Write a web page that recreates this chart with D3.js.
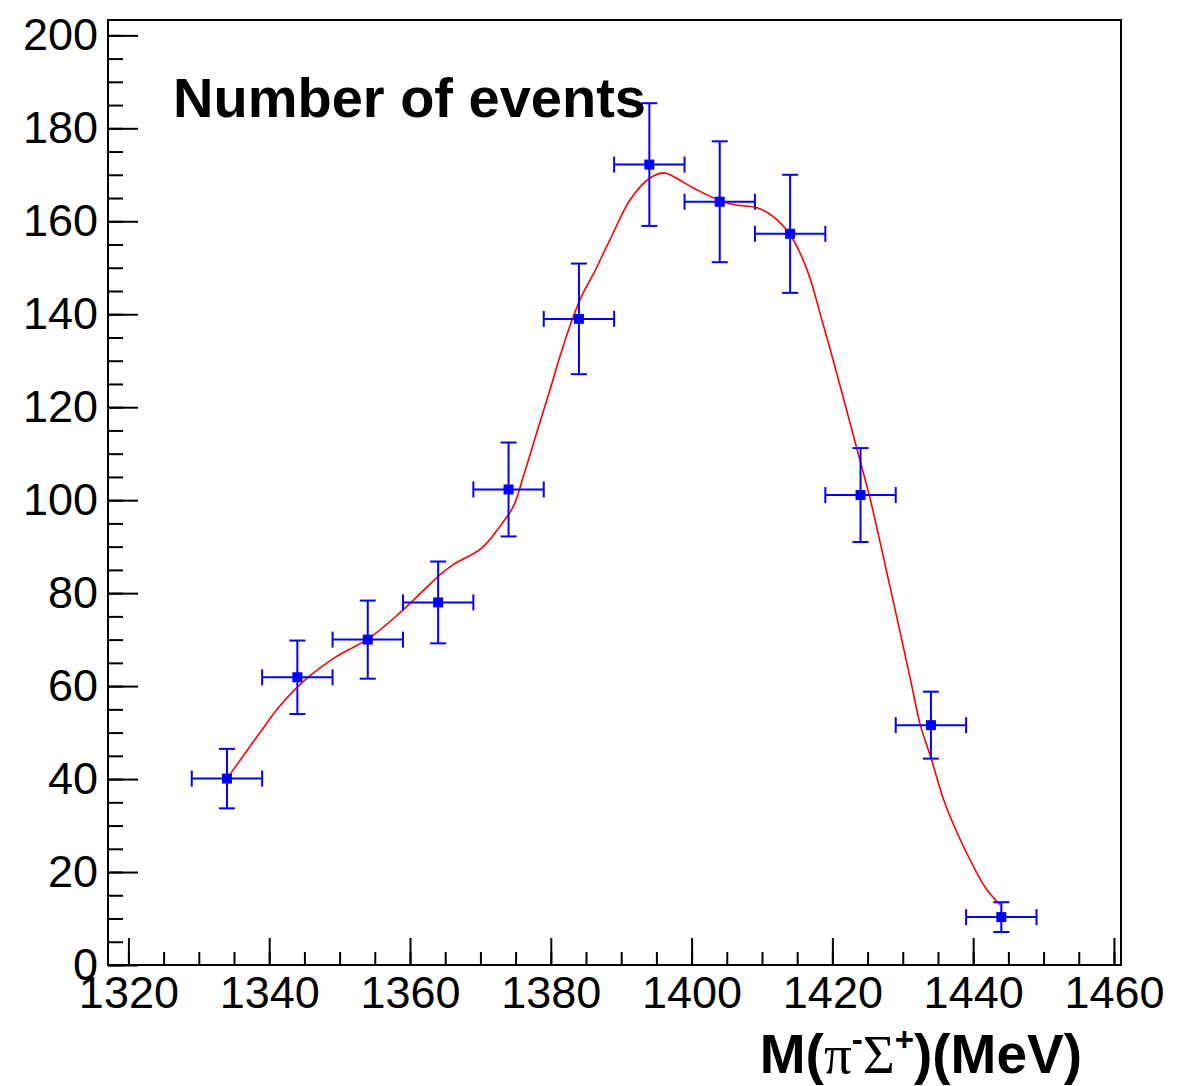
<!DOCTYPE html>
<html>
<head>
<meta charset="utf-8">
<script src="https://cdn.jsdelivr.net/npm/d3@7"></script>
<style>
    body { margin: 0; background: #fff; }
    svg { display: block; }
</style>
</head>
<body>
<div id="chart"></div>
<script>
// 数据：每个bin的中心(MeV)、事件数、误差
var massBins = [1334, 1344, 1354, 1364, 1374, 1384, 1394, 1404, 1414, 1424, 1434, 1444];
var eventCounts = [40.1, 61.9, 70.0, 78.0, 102.3, 139.0, 172.2, 164.2, 157.3, 101.1, 51.6, 10.3];
var countErrors = [6.4, 7.9, 8.4, 8.8, 10.1, 11.9, 13.2, 13.0, 12.7, 10.1, 7.2, 3.2];
var binHalfWidth = 5;

// 拟合曲线(红色)
var fitMass = [1334, 1338.7, 1341.5, 1345.3, 1349.6, 1354.1, 1358.6, 1364.3, 1366.2, 1370.2,
    1372.8, 1374.7, 1376.1, 1378.0, 1379.9, 1381.3, 1383.2, 1384.6, 1386.0, 1388.4,
    1391.3, 1394.1, 1396.2, 1397.2, 1400.7, 1403.8, 1405.9, 1409.3, 1411.6, 1414.0,
    1416.4, 1418.5, 1420.1, 1422.0, 1423.9, 1425.4, 1426.8, 1428.7, 1431.1, 1432.5,
    1434.0, 1435.8, 1437.7, 1440.0, 1441.9, 1443.8];
var fitCounts = [40.1, 50.0, 55.7, 61.6, 66.4, 70.2, 75.8, 84.0, 86.2, 89.7,
    94.4, 98.7, 105.1, 114.5, 123.8, 130.9, 139.5, 144.6, 148.5, 156.0,
    164.7, 169.3, 170.4, 169.8, 166.8, 164.6, 163.6, 162.9, 161.0, 157.1,
    149.6, 138.8, 130.2, 119.5, 108.7, 100.1, 90.8, 77.9, 61.4, 51.6,
    44.6, 35.6, 28.5, 21.3, 16.3, 13.0];

// 坐标轴刻度
var xTicks = [1320, 1340, 1360, 1380, 1400, 1420, 1440, 1460];
var yTicks = [0, 20, 40, 60, 80, 100, 120, 140, 160, 180, 200];

var width = 1182, height = 1086;
var padL = 108, padR = 1121, padT = 20, padB = 965;

var svg = d3.select("#chart")
    .append("svg")
    .attr("width", width)
    .attr("height", height)
    .style("font-family", "'Liberation Sans', Arial, sans-serif");

var x = d3.scaleLinear().domain([1317.1, 1461.0]).range([padL, padR]);
var y = d3.scaleLinear().domain([0, 203.3]).range([padB, padT]);

// x轴 小刻度
svg.append("g")
    .attr("transform", "translate(0," + padB + ")")
    .call(d3.axisBottom(x).tickValues(d3.range(1320, 1461, 5)).tickSizeInner(-13).tickSizeOuter(0).tickFormat(""))
    .call(function (g) { g.select(".domain").remove(); })
    .selectAll("line").attr("stroke-width", 2);

// x轴 大刻度
svg.append("g")
    .attr("transform", "translate(0," + padB + ")")
    .call(d3.axisBottom(x).tickValues(xTicks).tickSizeInner(-27).tickSizeOuter(0).tickPadding(11).tickFormat(d3.format("d")))
    .call(function (g) { g.select(".domain").remove(); })
    .call(function (g) {
        g.selectAll("line").attr("stroke-width", 2);
        g.selectAll("text")
            .attr("font-size", 45)
            .attr("font-family", "'Liberation Sans', Arial, sans-serif")
            .attr("fill", "#000");
    });

// y轴 小刻度
svg.append("g")
    .attr("transform", "translate(" + padL + ",0)")
    .call(d3.axisLeft(y).tickValues(d3.range(0, 201, 5)).tickSizeInner(-15).tickSizeOuter(0).tickFormat(""))
    .call(function (g) { g.select(".domain").remove(); })
    .selectAll("line").attr("stroke-width", 2);

// y轴 大刻度
svg.append("g")
    .attr("transform", "translate(" + padL + ",0)")
    .call(d3.axisLeft(y).tickValues(yTicks).tickSizeInner(-30).tickSizeOuter(0).tickPadding(10).tickFormat(d3.format("d")))
    .call(function (g) { g.select(".domain").remove(); })
    .call(function (g) {
        g.selectAll("line").attr("stroke-width", 2);
        g.selectAll("text")
            .attr("font-size", 45)
            .attr("font-family", "'Liberation Sans', Arial, sans-serif")
            .attr("fill", "#000");
    });

// 边框
svg.append("rect")
    .attr("x", padL)
    .attr("y", padT)
    .attr("width", padR - padL)
    .attr("height", padB - padT)
    .attr("fill", "none")
    .attr("stroke", "#000")
    .attr("stroke-width", 2);

// 拟合曲线
var fitData = fitMass.map(function (m, i) { return [m, fitCounts[i]]; });
var line = d3.line()
    .x(function (d) { return x(d[0]); })
    .y(function (d) { return y(d[1]); })
    .curve(d3.curveCatmullRom.alpha(0.5));
svg.append("path")
    .datum(fitData)
    .attr("d", line)
    .attr("fill", "none")
    .attr("stroke", "#ff0000")
    .attr("stroke-width", 1.6);

// 数据点 + 误差棒
var points = massBins.map(function (m, i) {
    return { m: m, n: eventCounts[i], e: countErrors[i] };
});
var cap = 8;
var pts = svg.selectAll("g.pt")
    .data(points)
    .enter()
    .append("g")
    .attr("class", "pt")
    .attr("stroke", "#0000ff")
    .attr("stroke-width", 2);

// 横向误差
pts.append("line")
    .attr("x1", function (d) { return x(d.m - binHalfWidth); })
    .attr("x2", function (d) { return x(d.m + binHalfWidth); })
    .attr("y1", function (d) { return y(d.n); })
    .attr("y2", function (d) { return y(d.n); });
pts.append("line")
    .attr("x1", function (d) { return x(d.m - binHalfWidth); })
    .attr("x2", function (d) { return x(d.m - binHalfWidth); })
    .attr("y1", function (d) { return y(d.n) - cap; })
    .attr("y2", function (d) { return y(d.n) + cap; });
pts.append("line")
    .attr("x1", function (d) { return x(d.m + binHalfWidth); })
    .attr("x2", function (d) { return x(d.m + binHalfWidth); })
    .attr("y1", function (d) { return y(d.n) - cap; })
    .attr("y2", function (d) { return y(d.n) + cap; });

// 纵向误差
pts.append("line")
    .attr("x1", function (d) { return x(d.m); })
    .attr("x2", function (d) { return x(d.m); })
    .attr("y1", function (d) { return y(d.n + d.e); })
    .attr("y2", function (d) { return y(d.n - d.e); });
pts.append("line")
    .attr("x1", function (d) { return x(d.m) - cap; })
    .attr("x2", function (d) { return x(d.m) + cap; })
    .attr("y1", function (d) { return y(d.n + d.e); })
    .attr("y2", function (d) { return y(d.n + d.e); });
pts.append("line")
    .attr("x1", function (d) { return x(d.m) - cap; })
    .attr("x2", function (d) { return x(d.m) + cap; })
    .attr("y1", function (d) { return y(d.n - d.e); })
    .attr("y2", function (d) { return y(d.n - d.e); });

// 方形标记
pts.append("rect")
    .attr("x", function (d) { return x(d.m) - 5; })
    .attr("y", function (d) { return y(d.n) - 5; })
    .attr("width", 10)
    .attr("height", 10)
    .attr("fill", "#0000ff")
    .attr("stroke", "none");

// 标题
svg.append("text")
    .attr("x", 173)
    .attr("y", 117)
    .attr("font-size", 56)
    .attr("font-weight", "bold")
    .text("Number of events");

// x轴标题
var xt = svg.append("text")
    .attr("x", 1082)
    .attr("y", 1073)
    .attr("text-anchor", "end")
    .attr("font-size", 55)
    .attr("font-weight", "bold");
xt.append("tspan").text("M(");
xt.append("tspan").attr("font-family", "'Liberation Serif', serif").attr("font-weight", "normal").text("π");
xt.append("tspan").attr("font-size", 33).attr("dy", -22).text("-");
xt.append("tspan").attr("font-family", "'Liberation Serif', serif").attr("font-weight", "normal").attr("dy", 22).text("Σ");
xt.append("tspan").attr("font-size", 33).attr("dy", -22).text("+");
xt.append("tspan").attr("dy", 22).text(")(MeV)");
</script>
</body>
</html>
